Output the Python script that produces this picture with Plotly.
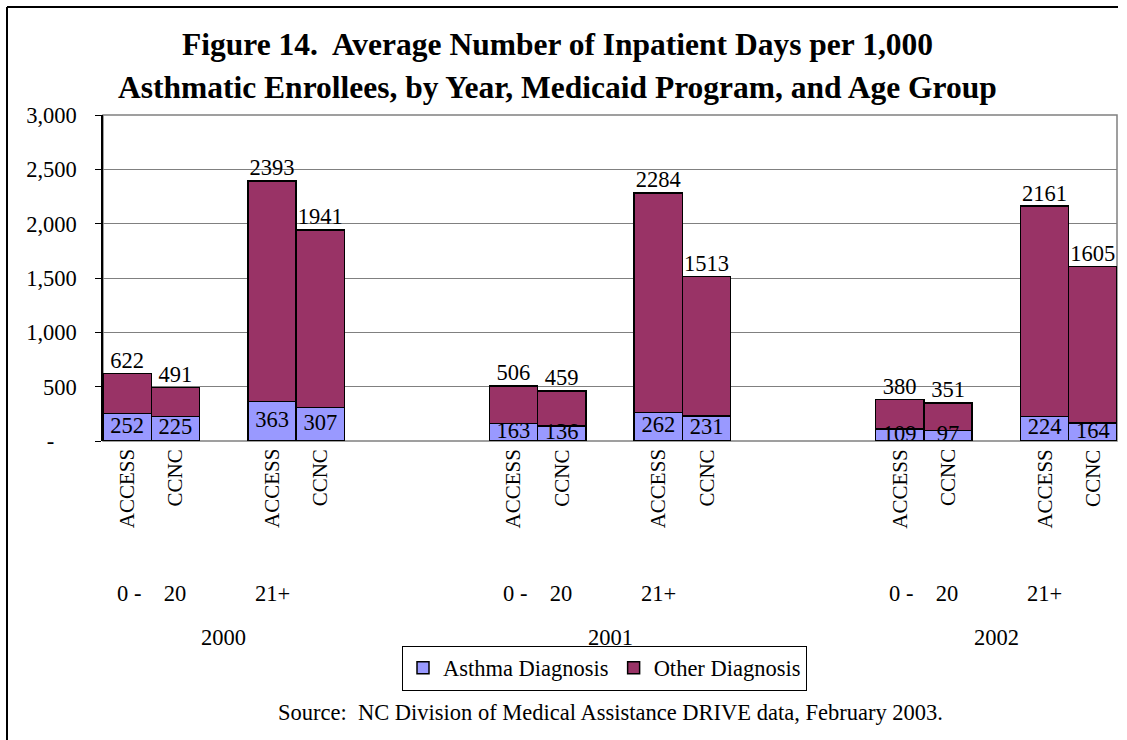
import plotly.graph_objects as go

# ---- data ----
programs = ["ACCESS", "CCNC", "ACCESS", "CCNC",
            "ACCESS", "CCNC", "ACCESS", "CCNC",
            "ACCESS", "CCNC", "ACCESS", "CCNC"]
age_groups = ["0 -    20", "21+"]
years = ["2000", "2001", "2002"]
asthma = [252, 225, 363, 307, 163, 136, 262, 231, 109, 97, 224, 164]
totals = [622, 491, 2393, 1941, 506, 459, 2284, 1513, 380, 351, 2161, 1605]
other = [t - a for t, a in zip(totals, asthma)]

# category slot positions (Excel-style multi-level axis with empty slots)
xpos = [0, 1, 3, 4, 8, 9, 11, 12, 16, 17, 19, 20]
age_pos = [0.5, 3, 8.5, 11, 16.5, 19]
age_lab = age_groups * 3
year_pos = [2, 10, 18]

FONT = "Liberation Serif, Times New Roman, serif"
ASTHMA_C = "#9999FF"
OTHER_C = "#993366"
FS = 22.5

fig = go.Figure()
fig.add_trace(go.Bar(x=xpos, y=asthma, width=1, name="Asthma Diagnosis",
                     marker=dict(color=ASTHMA_C, line=dict(color="black", width=1.5)),
                     hoverinfo="y"))
fig.add_trace(go.Bar(x=xpos, y=other, width=1, name="Other Diagnosis",
                     marker=dict(color=OTHER_C, line=dict(color="black", width=1.5)),
                     hoverinfo="y"))
# labels inside asthma segment
fig.add_trace(go.Scatter(x=xpos, y=[a / 2 for a in asthma], mode="text",
                         text=[str(a) for a in asthma], textposition="middle center",
                         textfont=dict(family=FONT, size=FS, color="black"),
                         showlegend=False, cliponaxis=False, hoverinfo="skip"))
# total labels above bars
fig.add_trace(go.Scatter(x=xpos, y=totals, mode="text",
                         text=[str(t) for t in totals], textposition="top center",
                         textfont=dict(family=FONT, size=FS, color="black"),
                         showlegend=False, cliponaxis=False, hoverinfo="skip"))

ann = []
# rotated program labels
for xp, p in zip(xpos, programs):
    ann.append(dict(x=xp, y=-0.02, xref="x", yref="paper", text=p, textangle=-90,
                    xanchor="center", yanchor="top", showarrow=False,
                    font=dict(family=FONT, size=21, color="black")))
for xp, a in zip(age_pos, age_lab):
    ann.append(dict(x=xp, y=(441 - 593) / 326, xref="x", yref="paper", text=a,
                    xanchor="center", yanchor="middle", showarrow=False,
                    font=dict(family=FONT, size=FS, color="black")))
for xp, yv in zip(year_pos, years):
    ann.append(dict(x=xp, y=(441 - 637) / 326, xref="x", yref="paper", text=yv,
                    xanchor="center", yanchor="middle", showarrow=False,
                    font=dict(family=FONT, size=FS, color="black")))
# title
ann.append(dict(x=(557 - 103) / 1014, y=(441 - 45) / 326, xref="paper", yref="paper",
                text="<b>Figure 14.  Average Number of Inpatient Days per 1,000</b>",
                xanchor="center", yanchor="middle", showarrow=False,
                font=dict(family=FONT, size=31.5, color="black")))
ann.append(dict(x=(557 - 103) / 1014, y=(441 - 87) / 326, xref="paper", yref="paper",
                text="<b>Asthmatic Enrollees, by Year, Medicaid Program, and Age Group</b>",
                xanchor="center", yanchor="middle", showarrow=False,
                font=dict(family=FONT, size=31.5, color="black")))
# source
ann.append(dict(x=(610 - 103) / 1014, y=(441 - 712) / 326, xref="paper", yref="paper",
                text="Source:  NC Division of Medical Assistance DRIVE data, February 2003.",
                xanchor="center", yanchor="middle", showarrow=False,
                font=dict(family=FONT, size=22.5, color="black")))

shapes = [
    # plot border (grey)
    dict(type="rect", xref="paper", yref="paper", x0=0, y0=0, x1=1, y1=1,
         line=dict(color="#808080", width=1.5), layer="below"),
    # page frame left & top
    dict(type="line", xref="paper", yref="paper", x0=(7 - 103) / 1014, x1=(7 - 103) / 1014,
         y0=(441 - 7) / 326, y1=(441 - 745) / 326, line=dict(color="black", width=2)),
    dict(type="line", xref="paper", yref="paper", x0=(7 - 103) / 1014, x1=(1118 - 103) / 1014,
         y0=(441 - 7) / 326, y1=(441 - 7) / 326, line=dict(color="black", width=2)),
]

yt = [0, 500, 1000, 1500, 2000, 2500, 3000]
ytext = ["-\u00a0\u00a0\u00a0\u00a0", "500", "1,000", "1,500", "2,000", "2,500", "3,000"]

fig.update_layout(
    width=1127, height=740,
    margin=dict(l=103, r=10, t=115, b=299),
    paper_bgcolor="white", plot_bgcolor="white",
    barmode="stack",
    showlegend=True,
    legend=dict(orientation="h", x=(604.5 - 103) / 1014, y=(441 - 668) / 326,
                xanchor="center", yanchor="middle", traceorder="normal",
                bordercolor="black", borderwidth=1, bgcolor="white",
                font=dict(family=FONT, size=FS, color="black"),
                itemwidth=30),
    xaxis=dict(range=[-0.5, 20.5], showticklabels=False, showgrid=False,
               zeroline=False, showline=False, ticks=""),
    yaxis=dict(range=[0, 3000], tickvals=yt, ticktext=ytext, showgrid=True,
               gridcolor="#808080", gridwidth=1, zeroline=False,
               showline=True, linecolor="black", linewidth=1.5,
               ticks="outside", ticklen=6, tickcolor="black",
               ticklabelstandoff=14,
               tickfont=dict(family=FONT, size=FS, color="black")),
    annotations=ann, shapes=shapes,
    font=dict(family=FONT, color="black"),
)

fig.write_html("out.html", config={"displayModeBar": False},
               post_script="document.body.style.margin='0px';")
